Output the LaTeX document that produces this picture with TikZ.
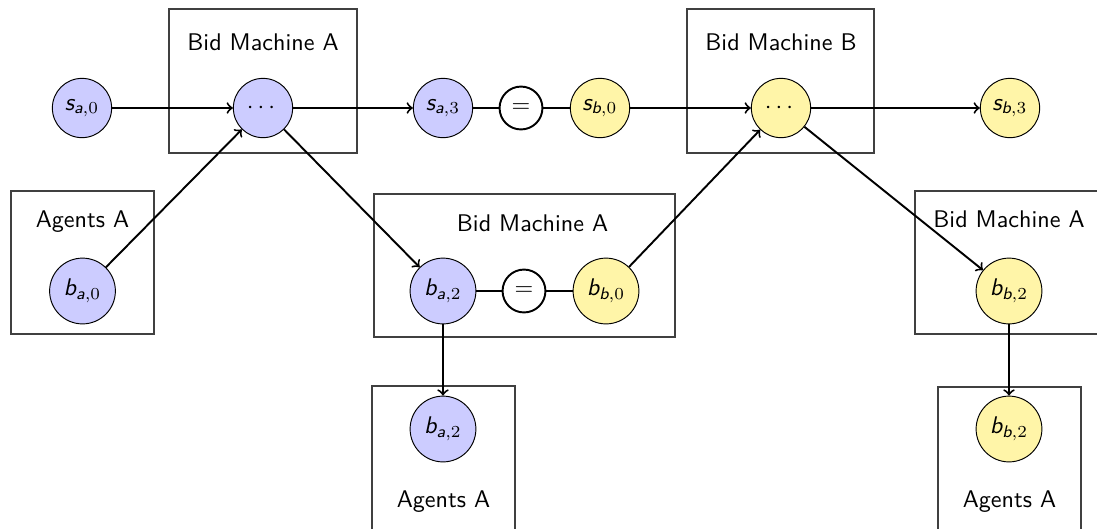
\documentclass[tikz,border=0pt]{standalone}
\usepackage{amsmath}
\definecolor{statebl}{RGB}{204,204,255}
\definecolor{stateyl}{RGB}{255,245,168}
\newcommand\sv[3]{$\textit{#1}_{\textit{#2},#3}$}
\begin{document}
\begin{tikzpicture}[x=0.415pt,y=-0.415pt,font=\sffamily,
  sstate/.style={circle,draw,line width=0.4pt,inner sep=0pt,minimum size=24.6pt},
  bstate/.style={circle,draw,line width=0.4pt,inner sep=0pt,minimum size=27.3pt},
  bl/.style={fill=statebl},
  yl/.style={fill=stateyl},
  eqnode/.style={circle,draw,thick,fill=white,inner sep=0pt,minimum size=17.8pt},
  frame/.style={draw=black!75,line width=0.5pt},
  title/.style={anchor=base,inner sep=0pt},
  flow/.style={->,thick},
  link/.style={thick}]
\useasboundingbox (0,0) rectangle (1097,528);

% frames
\draw[frame] (169,9) rectangle (357,153);
\draw[frame] (687,9) rectangle (874,153);
\draw[frame] (11,191) rectangle (154,334);
\draw[frame] (374,194) rectangle (675,337);
\draw[frame] (915,191) rectangle (1103,334);
\draw[frame] (372,386) rectangle (515,540);
\draw[frame] (938,387) rectangle (1081,540);

% frame titles
\node[title] (tA1) at (263,50) {Bid Machine A};
\node[title] (tB)  at (781,50) {Bid Machine B};
\node[title] (tAg1) at (82.5,227) {Agents A};
\node[title] (tA2) at (532.5,231) {Bid Machine A};
\node[title] (tA3) at (1009,227) {Bid Machine A};
\node[title] (tAg2) at (443.5,507) {Agents A};
\node[title] (tAg3) at (1009.5,507) {Agents A};

% top row: states
\node[sstate,bl] (sa0) at (82,108) {\sv{s}{a}{0}};
\node[sstate,bl] (dA)  at (263,108) {$\cdots$};
\node[sstate,bl] (sa3) at (443,108) {\sv{s}{a}{3}};
\node[eqnode]    (eq1) at (521,108) {$=$};
\node[sstate,yl] (sb0) at (600,108) {\sv{s}{b}{0}};
\node[sstate,yl] (dB)  at (781,108) {$\cdots$};
\node[sstate,yl] (sb3) at (1010,108) {\sv{s}{b}{3}};

% bid row
\node[bstate,bl] (ba0) at (82.5,291) {\sv{b}{a}{0}};
\node[bstate,bl] (ba2) at (443,291) {\sv{b}{a}{2}};
\node[eqnode]    (eq2) at (524,291) {$=$};
\node[bstate,yl] (bb0) at (606,291) {\sv{b}{b}{0}};
\node[bstate,yl] (bb2) at (1009,291) {\sv{b}{b}{2}};

% agents row
\node[bstate,bl] (ba2l) at (443,429) {\sv{b}{a}{2}};
\node[bstate,yl] (bb2l) at (1009,429) {\sv{b}{b}{2}};

% connectors
\draw[flow] (sa0) -- (dA);
\draw[flow] (dA) -- (sa3);
\draw[link] (sa3) -- (eq1);
\draw[link] (eq1) -- (sb0);
\draw[flow] (sb0) -- (dB);
\draw[flow] (dB) -- (sb3);
\draw[flow] (ba0) -- (dA);
\draw[flow] (dA) -- (ba2);
\draw[link] (ba2) -- (eq2);
\draw[link] (eq2) -- (bb0);
\draw[flow] (bb0) -- (dB);
\draw[flow] (dB) -- (bb2);
\draw[flow] (ba2) -- (ba2l);
\draw[flow] (bb2) -- (bb2l);
\end{tikzpicture}
\end{document}
